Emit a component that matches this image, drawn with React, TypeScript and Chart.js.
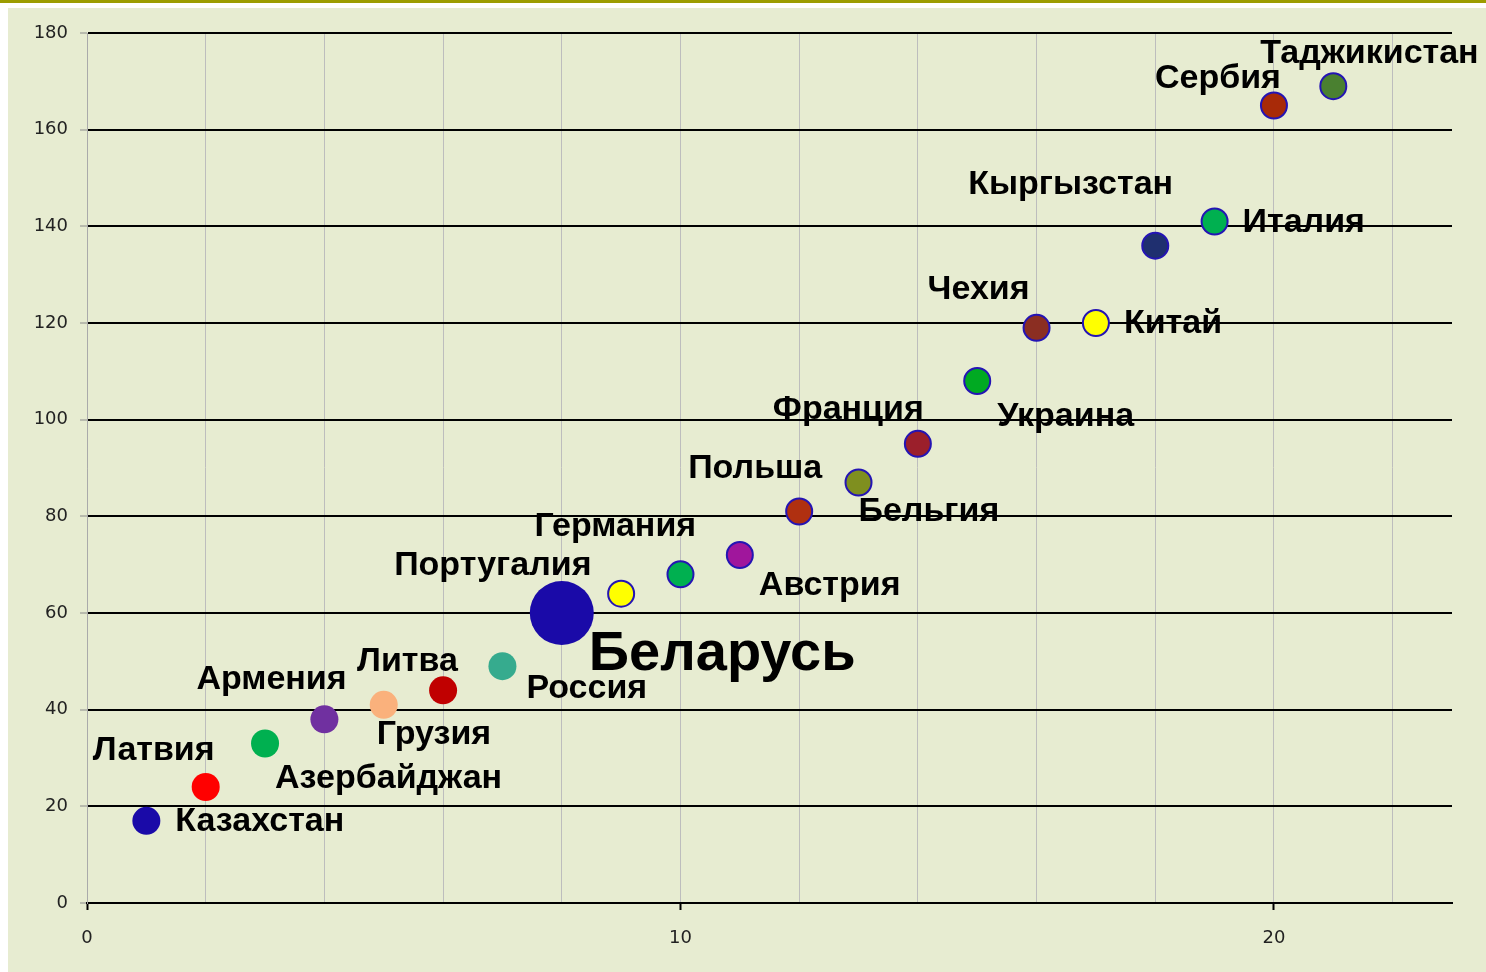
import React, { useEffect, useRef } from "react";
import { Chart, registerables } from "chart.js";

Chart.register(...registerables);

const countries = [
  "Казахстан", "Латвия", "Азербайджан", "Армения", "Грузия", "Литва", "Россия",
  "Беларусь", "Португалия", "Германия", "Австрия", "Польша", "Бельгия", "Франция",
  "Украина", "Чехия", "Китай", "Кыргызстан", "Италия", "Сербия", "Таджикистан",
];
const xValues = [1, 2, 3, 4, 5, 6, 7, 8, 9, 10, 11, 12, 13, 14, 15, 16, 17, 18, 19, 20, 21];
const yValues = [17, 24, 33, 38, 41, 44, 49, 60, 64, 68, 72, 81, 87, 95, 108, 119, 120, 136, 141, 165, 169];
const xTickLabels = [0, 10, 20];

// styling
const pointColors = [
  "#1A0AA8", "#FF0000", "#00B050", "#7030A0", "#FAB17C", "#C00000", "#36AB8E",
  "#1A0AA8", "#FFFF00", "#00B050", "#A0169C", "#B03010", "#7F8F1F", "#9B1F2B",
  "#00AA22", "#8B2E22", "#FFFF00", "#1F2F6F", "#00B050", "#A82A08", "#4A8030",
];
const highlightIndex = 7;
const labelOffsets: [number, number][] = [
  [29, 1], [-113, -36], [10, 35], [-128, -40], [-7, 30], [-86, -29], [24, 22],
  [27, 42], [-227, -28], [-146, -48], [19, 31], [-111, -43], [0, 29], [-145, -34],
  [20, 36], [-109, -38], [28, 1], [-187, -61], [28, 1], [-119, -27], [-73, -33],
];

const BG = "#E7ECD1";
const BORDER_BLUE = "#2414B4";

const labelPlugin = {
  id: "countryLabels",
  afterDatasetsDraw(chart: any) {
    const ctx = chart.ctx;
    const meta = chart.getDatasetMeta(0);
    ctx.save();
    ctx.fillStyle = "#000";
    ctx.textAlign = "left";
    ctx.textBaseline = "middle";
    meta.data.forEach((pt: any, i: number) => {
      ctx.font = i === highlightIndex ? 'bold 56px "Liberation Sans"' : 'bold 34px "Liberation Sans"';
      const [dx, dy] = labelOffsets[i];
      ctx.fillText(countries[i], pt.x + dx, pt.y + dy);
    });
    ctx.restore();
  },
};

export default function App() {
  const ref = useRef<HTMLCanvasElement>(null);
  useEffect(() => {
    if (!ref.current) return;
    const data = xValues.map((x, i) => ({ x, y: yValues[i] }));
    const chart = new Chart(ref.current, {
      type: "scatter",
      data: {
        datasets: [
          {
            data,
            backgroundColor: pointColors,
            borderColor: pointColors.map((c, i) => (i < highlightIndex ? c : BORDER_BLUE)),
            borderWidth: pointColors.map((_, i) => (i <= highlightIndex ? 0 : 2)),
            pointRadius: pointColors.map((_, i) => (i === highlightIndex ? 32 : i < highlightIndex ? 14 : 13)),
            pointHoverRadius: pointColors.map((_, i) => (i === highlightIndex ? 32 : 14)),
          },
        ],
      },
      options: {
        animation: false,
        responsive: false,
        layout: { autoPadding: false, padding: { top: 25, right: 34, left: 0, bottom: 0 } },
        plugins: { legend: { display: false }, tooltip: { enabled: false } },
        scales: {
          x: {
            type: "linear",
            min: 0,
            max: 23,
            afterBuildTicks: (scale: any) => {
              scale.ticks = scale.ticks.filter((t: any) => t.value <= 22);
            },
            afterFit: (scale: any) => {
              scale.height = 69;
              scale.paddingLeft = 0;
              scale.paddingRight = 0;
            },
            ticks: {
              stepSize: 2,
              autoSkip: false,
              maxRotation: 0,
              padding: 18,
              color: "#222",
              font: { family: '"DejaVu Sans"', size: 18 },
              callback: (v: any) => (xTickLabels.includes(Number(v)) ? String(v) : ""),
            },
            grid: {
              color: "#BDBDBD",
              lineWidth: 1,
              tickLength: 7,
              tickColor: (c: any) => (c.tick && xTickLabels.includes(c.tick.value) ? "#000" : "rgba(0,0,0,0)"),
              tickWidth: 2,
            },
            border: { color: "#000", width: 2 },
          },
          y: {
            min: 0,
            max: 180,
            afterFit: (scale: any) => {
              scale.width = 79;
              scale.paddingTop = 0;
              scale.paddingBottom = 0;
            },
            ticks: {
              stepSize: 20,
              padding: 12,
              color: "#222",
              font: { family: '"DejaVu Sans"', size: 18 },
            },
            grid: {
              color: "#000",
              lineWidth: 2,
              tickLength: 7,
              tickColor: "#8A8A8A",
              tickWidth: 1,
            },
            border: { color: "#AAAAAA", width: 1 },
          },
        },
      },
      plugins: [labelPlugin],
    });
    return () => chart.destroy();
  }, []);

  return (
    <>
      <div style={{ position: "fixed", left: 0, top: 0, width: 1486, height: 3, background: "#9C9C00" }} />
      <div style={{ position: "fixed", left: 8, top: 8, width: 1478, height: 964, background: BG }}>
        <canvas ref={ref} width={1478} height={964} style={{ display: "block" }} />
      </div>
    </>
  );
}
